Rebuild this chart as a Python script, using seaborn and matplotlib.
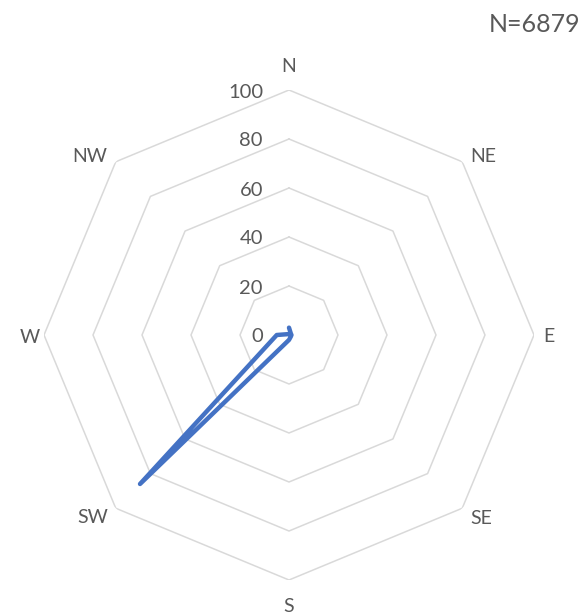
import numpy as np
import pandas as pd
import matplotlib
matplotlib.use("Agg")
import matplotlib.pyplot as plt
import seaborn as sns

directions = ["N", "NE", "E", "SE", "S", "SW", "W", "NW"]
values = [3, 1, 1, 1, 2, 86, 5, 0.5]
ring_ticks = [0, 20, 40, 60, 80, 100]
note = "N=6879"

sns.set_theme(style="white")
plt.rcParams["font.family"] = ["Lato", "DejaVu Sans"]

W, H = 586, 615
fig = plt.figure(figsize=(W / 100, H / 100), dpi=100)
cx, cy, R = 289, 335, 245
ax = fig.add_axes([(cx - R) / W, (H - cy - R) / H, 2 * R / W, 2 * R / H], projection="polar")
ax.set_theta_offset(np.pi / 2)
ax.set_theta_direction(-1)
ax.set_ylim(0, 100)
ax.grid(False)
ax.spines["polar"].set_visible(False)
ax.set_xticks([])
ax.set_yticks([])
ax.set_facecolor("none")

n = len(directions)
angles = np.arange(n) * 2 * np.pi / n
grid_color = "#D9D9D9"
text_color = "#595959"

# octagon rings
for r in ring_ticks[1:]:
    ax.plot(np.append(angles, angles[0]), [r] * (n + 1), color=grid_color, lw=1.1, zorder=1)

# data line
df = pd.DataFrame({"theta": np.append(angles, angles[0]), "value": values + [values[0]]})
sns.lineplot(data=df, x="theta", y="value", sort=False, ax=ax, color="#4472C4", lw=3.2, zorder=3,
             solid_joinstyle="round", solid_capstyle="round")
ax.set_xlabel("")
ax.set_ylabel("")

# category labels (pixel offsets from the outer vertex, x right / y up)
label_offsets = [(0, 23), (21, 5), (15, -2), (19, -10), (0, -27), (-23, -9), (-14, -2), (-26, 5)]
for a, d, (ox, oy) in zip(angles, directions, label_offsets):
    ax.annotate(d, xy=(a, 100), xytext=(ox * 0.72, oy * 0.72), textcoords="offset points",
                ha="center", va="center", fontsize=14, color=text_color)

# ring labels
for r in ring_ticks:
    ax.annotate(str(r), xy=(0, r), xytext=(-26 * 0.72, -2 * 0.72), textcoords="offset points",
                ha="right", va="center", fontsize=14.5, color=text_color)

fig.text(1 - 6 / W, 1 - 25 / H, note, ha="right", va="center", fontsize=18, color=text_color)

fig.savefig("out.png", dpi=100, facecolor="white")
